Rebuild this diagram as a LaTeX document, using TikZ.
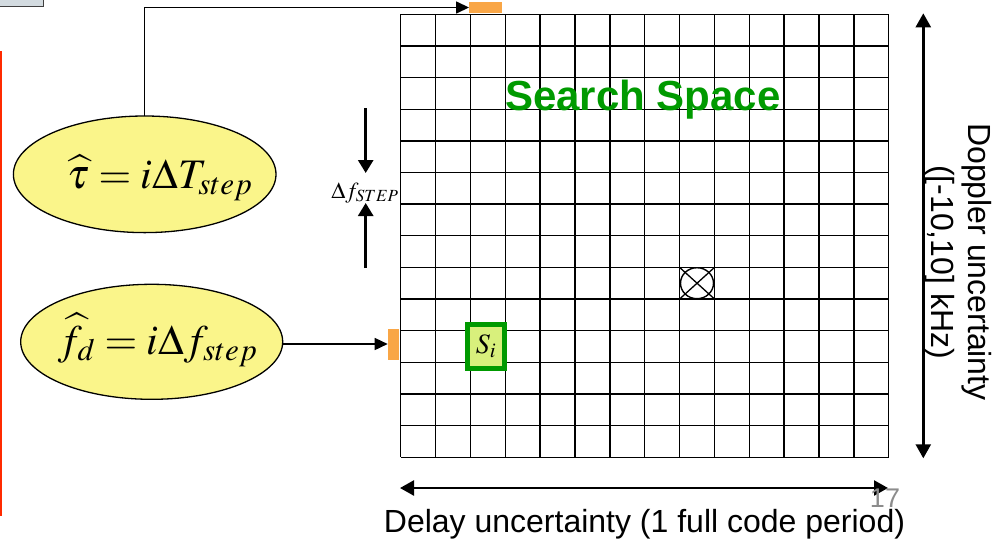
\documentclass[tikz,border=0pt]{standalone}
\usepackage{mathptmx}
\usepackage{fontspec}
\setsansfont{Liberation Sans}
\usetikzlibrary{arrows.meta,shapes.geometric}
\definecolor{ellfill}{HTML}{FAF58A}
\definecolor{orangem}{HTML}{F9A646}
\definecolor{ssgreen}{HTML}{009A00}
\definecolor{sifill}{HTML}{D8F07C}
\definecolor{redline}{HTML}{FF2A00}
\definecolor{boxgray}{HTML}{D3DBE0}
\definecolor{numgray}{HTML}{8C8C8C}
\tikzset{
  gridline/.style={line width=1.4pt, black},
  ellnode/.style={ellipse, draw=black, line width=1.3pt, fill=ellfill, inner sep=0pt},
  orangebox/.style={fill=orangem, draw=none, inner sep=0pt},
  conn/.style={line width=1.5pt, -{Triangle[length=13pt,width=12pt]}},
  dfarrow/.style={line width=2.7pt, -{Triangle[length=13pt,width=15pt]}},
  axisarrow/.style={line width=2.5pt, {Triangle[length=14pt,width=15pt]}-{Triangle[length=14pt,width=15pt]}},
  bigmath/.style={font=\fontsize{42}{48}\selectfont},
  sanslabel/.style={font=\sffamily\fontsize{32}{37}\selectfont}
}
\begin{document}
\begin{tikzpicture}[x=1pt,y=-1pt, every node/.style={inner sep=0pt, outer sep=0pt}]
\useasboundingbox (0,0) rectangle (1005,539);
% top-left box and red line
\fill[boxgray] (-3,-3) rectangle (43.7,6.7);
\draw[line width=1.5pt, black!75] (-3,6.7) -- (43.7,6.7) -- (43.7,-3);
\fill[redline] (0,50.7) rectangle (2.2,515.7);
% grid
\foreach \i in {0,...,14} {
  \draw[gridline] (400.7+\i*34.86,14.3) -- (400.7+\i*34.86,457.3);
  \draw[gridline] (400.7,14.3+\i*31.64) -- (888.7,14.3+\i*31.64);
}
% orange markers
\node[orangebox, minimum width=33.3pt, minimum height=11.6pt] (mtop) at (485.7,7.5) {};
\node[orangebox, minimum width=11.6pt, minimum height=31pt] (mleft) at (393.5,344) {};
% ellipses
\node[ellnode, minimum width=262.6pt, minimum height=116.6pt] (tau) at (144.7,174.3) {};
\node[bigmath, anchor=base] (tautxt) at (160,188) {$\widehat{\tau}=i\Delta T_{step}$};
\node[ellnode, minimum width=262pt, minimum height=115pt] (fd) at (151.7,341.8) {};
\node[bigmath, anchor=base] (fdtxt) at (158,354) {$\widehat{f}_{d}=i\Delta f_{step}$};
% connectors
\draw[conn] (tau.north) |- (mtop.west);
\draw[conn] (fd.east |- mleft.west) -- (mleft.west);
% delta f step
\coordinate (dfa1) at (365.7,108);
\coordinate (dfa2) at (365.7,173);
\coordinate (dfb1) at (365.7,268);
\coordinate (dfb2) at (365.7,203);
\draw[dfarrow] (dfa1) -- (dfa2);
\draw[dfarrow] (dfb1) -- (dfb2);
\node[font=\fontsize{23}{27}\selectfont, anchor=base] (dflabel) at (365,198) {$\Delta f_{STEP}$};
% search space label
\node[font=\sffamily\bfseries\fontsize{42}{50}\selectfont, text=ssgreen, anchor=base west] (ss) at (505,110) {Search Space};
% S_i cell
\node[draw=ssgreen, line width=5pt, fill=sifill, minimum width=37pt, minimum height=44pt, font=\fontsize{28}{32}\selectfont] (si) at (486,346.5) {$S_i$};
% crossed circle cell
\coordinate (c1) at (679.6,267.4);
\coordinate (c2) at (714.5,299.0);
\coordinate (c3) at (714.5,267.4);
\coordinate (c4) at (679.6,299.0);
\node[ellipse, draw, line width=1.4pt, minimum width=33pt, minimum height=31pt] (cc) at (697,283.2) {};
\draw[line width=1.3pt] (c1) -- (c2);
\draw[line width=1.3pt] (c3) -- (c4);
% doppler axis
\coordinate (dtop) at (923.3,13.3);
\coordinate (dbot) at (923.3,458.3);
\draw[axisarrow] (dtop) -- (dbot);
\node[sanslabel, rotate=-90, align=center] (doptxt) at (958,262) {Doppler uncertainty\\([-10,10] kHz)};
% delay axis
\coordinate (lleft) at (400,488);
\coordinate (lright) at (888,488);
\draw[axisarrow] (lleft) -- (lright);
\node[sanslabel, anchor=base] (delaytxt) at (644.5,532) {Delay uncertainty (1 full code period)};
\node[font=\sffamily\fontsize{27}{30}\selectfont, text=numgray] (pagenum) at (885,498) {17};
\end{tikzpicture}
\end{document}
